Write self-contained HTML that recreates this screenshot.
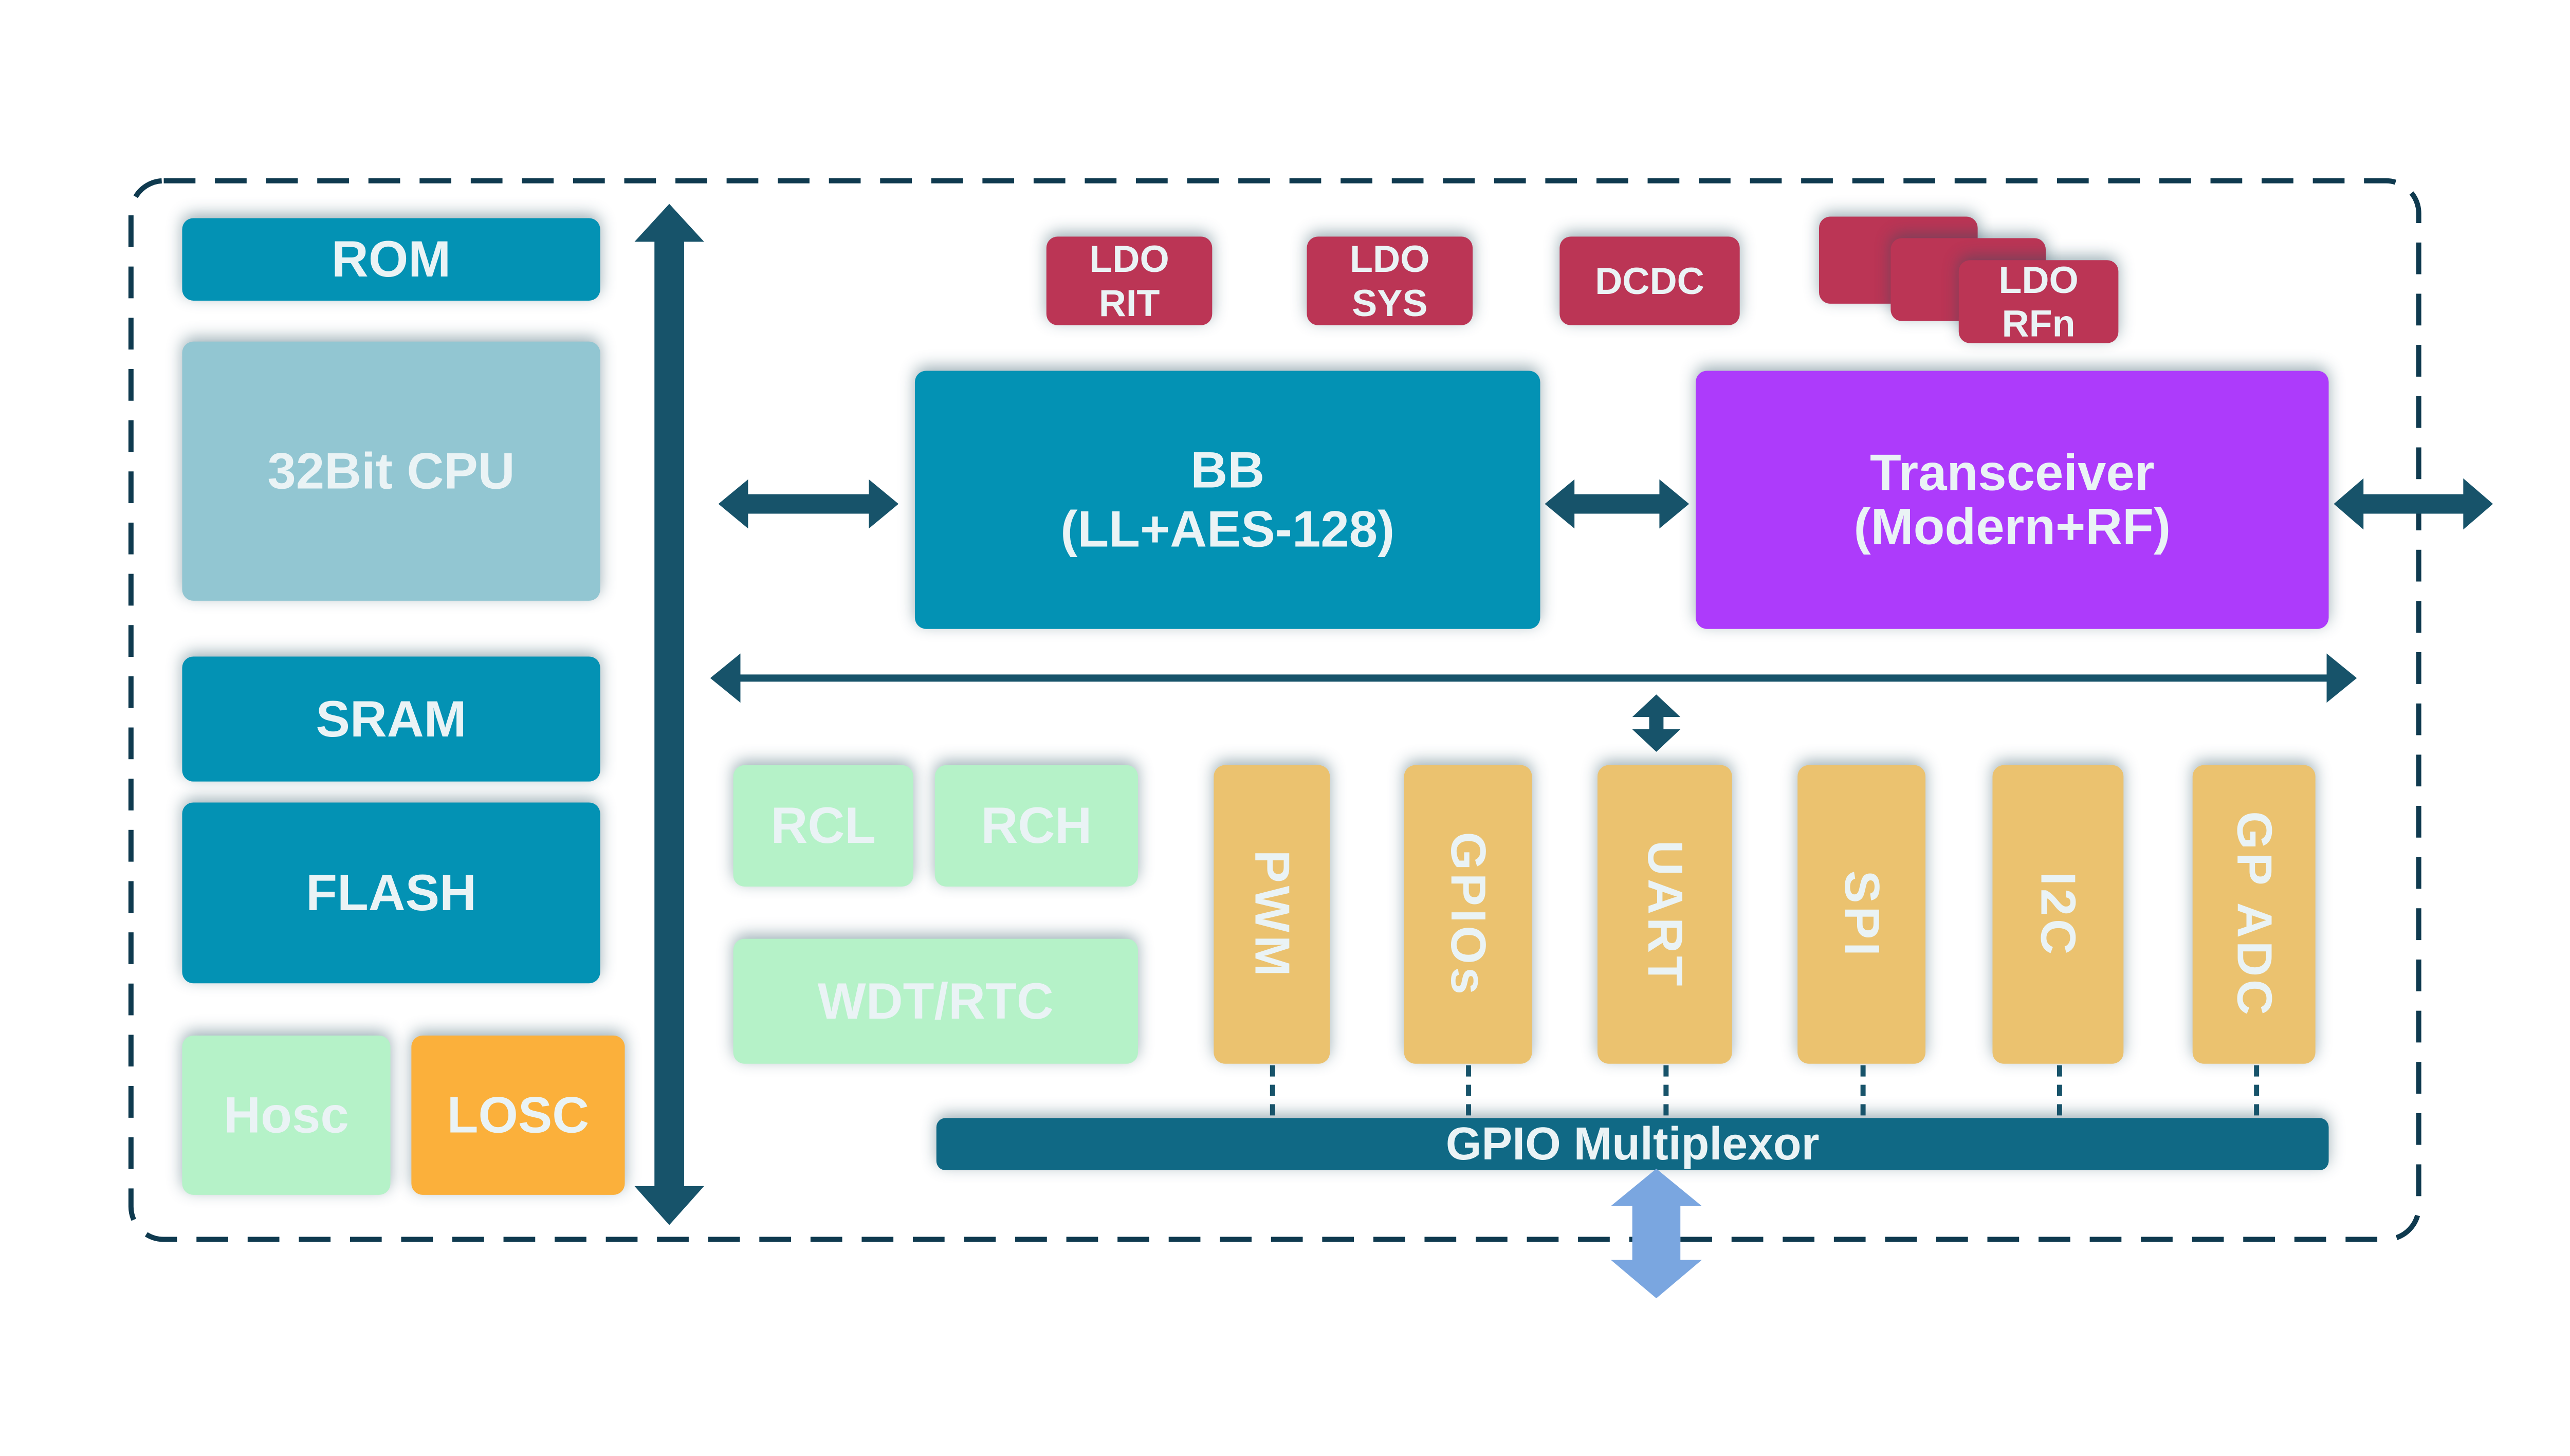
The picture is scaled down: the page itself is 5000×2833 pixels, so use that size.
<!DOCTYPE html>
<html><head><meta charset="utf-8"><style>
html,body{margin:0;padding:0;background:#fff}
body{width:5000px;height:2833px;position:relative;overflow:hidden;font-family:"Liberation Sans",sans-serif;font-weight:bold;color:#eaf3f5}
#w{position:absolute;left:0;top:0;width:5000px;height:2833px;transform:scale(0.9955,0.9965);transform-origin:0 0}
.b{position:absolute;display:flex;align-items:center;justify-content:center;text-align:center;border-radius:22px;box-shadow:0 -8px 30px rgba(40,80,95,0.45)}
.t{font-size:100px;line-height:1.15}
.l{font-size:74px;line-height:1.15;background:#bb3555}
.o{background:#ebc26f}
.o span{display:block;transform:rotate(90deg);white-space:nowrap;font-size:96px;letter-spacing:6px}
svg{position:absolute;left:0;top:0}
</style></head><body><div id="w">
<svg width="5000" height="2833">
<rect x="256" y="353" width="4471" height="2067" rx="64" fill="none" stroke="#0f3a4f" stroke-width="10" stroke-dasharray="62 38"/>
</svg>

<div class="b t" style="left:356px;top:426px;width:817px;height:161px;background:#0392b4">ROM</div>
<div class="b t" style="left:356px;top:667px;width:817px;height:506px;background:#92c6d2">32Bit CPU</div>
<div class="b t" style="left:356px;top:1282px;width:817px;height:244px;background:#0392b4">SRAM</div>
<div class="b t" style="left:356px;top:1567px;width:817px;height:353px;background:#0392b4">FLASH</div>
<div class="b t" style="left:356px;top:2022px;width:407px;height:311px;background:#b5f2c8">Hosc</div>
<div class="b t" style="left:804px;top:2022px;width:417px;height:311px;background:#fbb03b">LOSC</div>

<div class="b l" style="left:2045px;top:462px;width:324px;height:173px">LDO<br>RIT</div>
<div class="b l" style="left:2554px;top:462px;width:324px;height:173px">LDO<br>SYS</div>
<div class="b l" style="left:3048px;top:462px;width:352px;height:173px">DCDC</div>
<div class="b l" style="left:3555px;top:423px;width:310px;height:170px"></div>
<div class="b l" style="left:3695px;top:465px;width:303px;height:162px"></div>
<div class="b l" style="left:3828px;top:508px;width:312px;height:162px">LDO<br>RFn</div>

<div class="b t" style="left:1788px;top:724px;width:1222px;height:504px;background:#0392b4">BB<br>(LL+AES-128)</div>
<div class="b t" style="left:3314px;top:724px;width:1237px;height:504px;background:#ad3bfb;line-height:1.05">Transceiver<br>(Modern+RF)</div>

<div class="b t" style="left:1433px;top:1494px;width:352px;height:237px;background:#b5f2c8">RCL</div>
<div class="b t" style="left:1827px;top:1494px;width:397px;height:237px;background:#b5f2c8">RCH</div>
<div class="b t" style="left:1433px;top:1833px;width:791px;height:244px;background:#b5f2c8">WDT/RTC</div>

<div class="b o" style="left:2372px;top:1494px;width:227px;height:583px"><span>PWM</span></div>
<div class="b o" style="left:2744px;top:1494px;width:250px;height:583px"><span>GPIOs</span></div>
<div class="b o" style="left:3122px;top:1494px;width:263px;height:583px"><span>UART</span></div>
<div class="b o" style="left:3513px;top:1494px;width:250px;height:583px"><span>SPI</span></div>
<div class="b o" style="left:3894px;top:1494px;width:256px;height:583px"><span>I2C</span></div>
<div class="b o" style="left:4285px;top:1494px;width:240px;height:583px"><span>GP ADC</span></div>

<div class="b" style="left:1830px;top:2183px;width:2721px;height:102px;background:#106985;font-size:90px;border-radius:18px">GPIO Multiplexor</div>

<svg width="5000" height="2833">
<g fill="#17536a">
<polygon points="1308,398 1376,472 1337,472 1337,2316 1376,2316 1308,2392 1240,2316 1279,2316 1279,472 1240,472"/>
<polygon points="1404,984 1462,936 1462,965 1698,965 1698,936 1756,984 1698,1032 1698,1003 1462,1003 1462,1032"/>
<polygon points="3019,984 3077,936 3077,965 3243,965 3243,936 3301,984 3243,1032 3243,1003 3077,1003 3077,1032"/>
<polygon points="4561,984 4619,934 4619,965 4814,965 4814,934 4872,984 4814,1034 4814,1003 4619,1003 4619,1034"/>
<polygon points="1388,1324 1447,1276 1447,1317 4547,1317 4547,1276 4606,1324 4547,1372 4547,1331 1447,1331 1447,1372"/>
<polygon points="3237,1356 3284,1400 3251,1400 3251,1424 3284,1424 3237,1468 3190,1424 3223,1424 3223,1400 3190,1400"/>
</g>
<g stroke="#17536a" stroke-width="10" stroke-dasharray="22 16">
<line x1="2487" y1="2080" x2="2487" y2="2183"/>
<line x1="2870" y1="2080" x2="2870" y2="2183"/>
<line x1="3256" y1="2080" x2="3256" y2="2183"/>
<line x1="3641" y1="2080" x2="3641" y2="2183"/>
<line x1="4025" y1="2080" x2="4025" y2="2183"/>
<line x1="4410" y1="2080" x2="4410" y2="2183"/>
</g>
<polygon fill="#7aa6e0" points="3237,2282 3326,2355 3284,2355 3284,2460 3326,2460 3237,2535 3148,2460 3190,2460 3190,2355 3148,2355"/>
</svg>
</div></body></html>
